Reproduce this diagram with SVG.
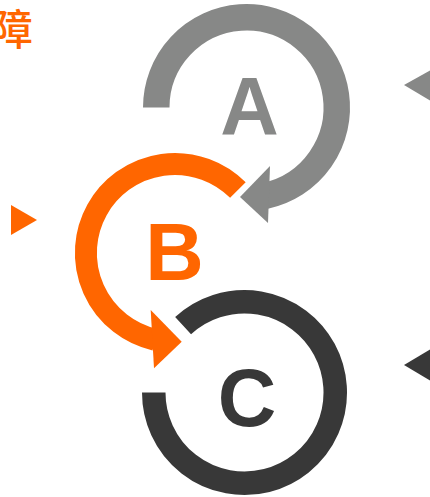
<svg xmlns="http://www.w3.org/2000/svg" width="430" height="497" viewBox="0 0 430 497">
<style>
.ring{fill:none;stroke-linecap:butt}
.letter{font-family:"Liberation Sans",Arial,sans-serif;font-weight:bold;font-size:81px;text-anchor:middle}
.ttl{font-family:"Noto Sans CJK SC","Noto Sans CJK JP",sans-serif;font-size:42px;font-weight:500;fill:#FF6600;text-anchor:end}
</style>
<rect width="430" height="497" fill="#ffffff"/>
<text class="ttl" x="33" y="45">障</text>
<g id="node-A">
<path class="ring" stroke="#878887" stroke-width="26.5" d="M156.25,107.5 A90.25,90.25 0 1 1 265.3,195.8"/>
<text class="letter" x="249.5" y="134" fill="#878887">A</text>
</g>
<g id="node-B">
<path class="ring" stroke="#FF6600" stroke-width="22" d="M237.9,190.1 A89,89 0 1 0 155,339.7"/>
<text class="letter" x="174.5" y="280" fill="#FF6600">B</text>
</g>
<g id="node-C">
<path class="ring" stroke="#383838" stroke-width="23.5" d="M153.75,392.5 A90.75,90.75 0 1 0 183.1,325.7"/>
<text class="letter" x="247" y="426" fill="#383838">C</text>
</g>
<g id="connectors">
<polygon points="270,166 240,197 268,223" fill="#878887"/>
<polygon points="150.7,310 181.7,341.7 154,368.3" fill="#FF6600"/>
<polygon points="11,205 37,220 11,235" fill="#FF6600"/>
<polygon points="404,85 431,70 431,101" fill="#878887"/>
<polygon points="404,365 431,349 431,381" fill="#383838"/>
</g>
</svg>
